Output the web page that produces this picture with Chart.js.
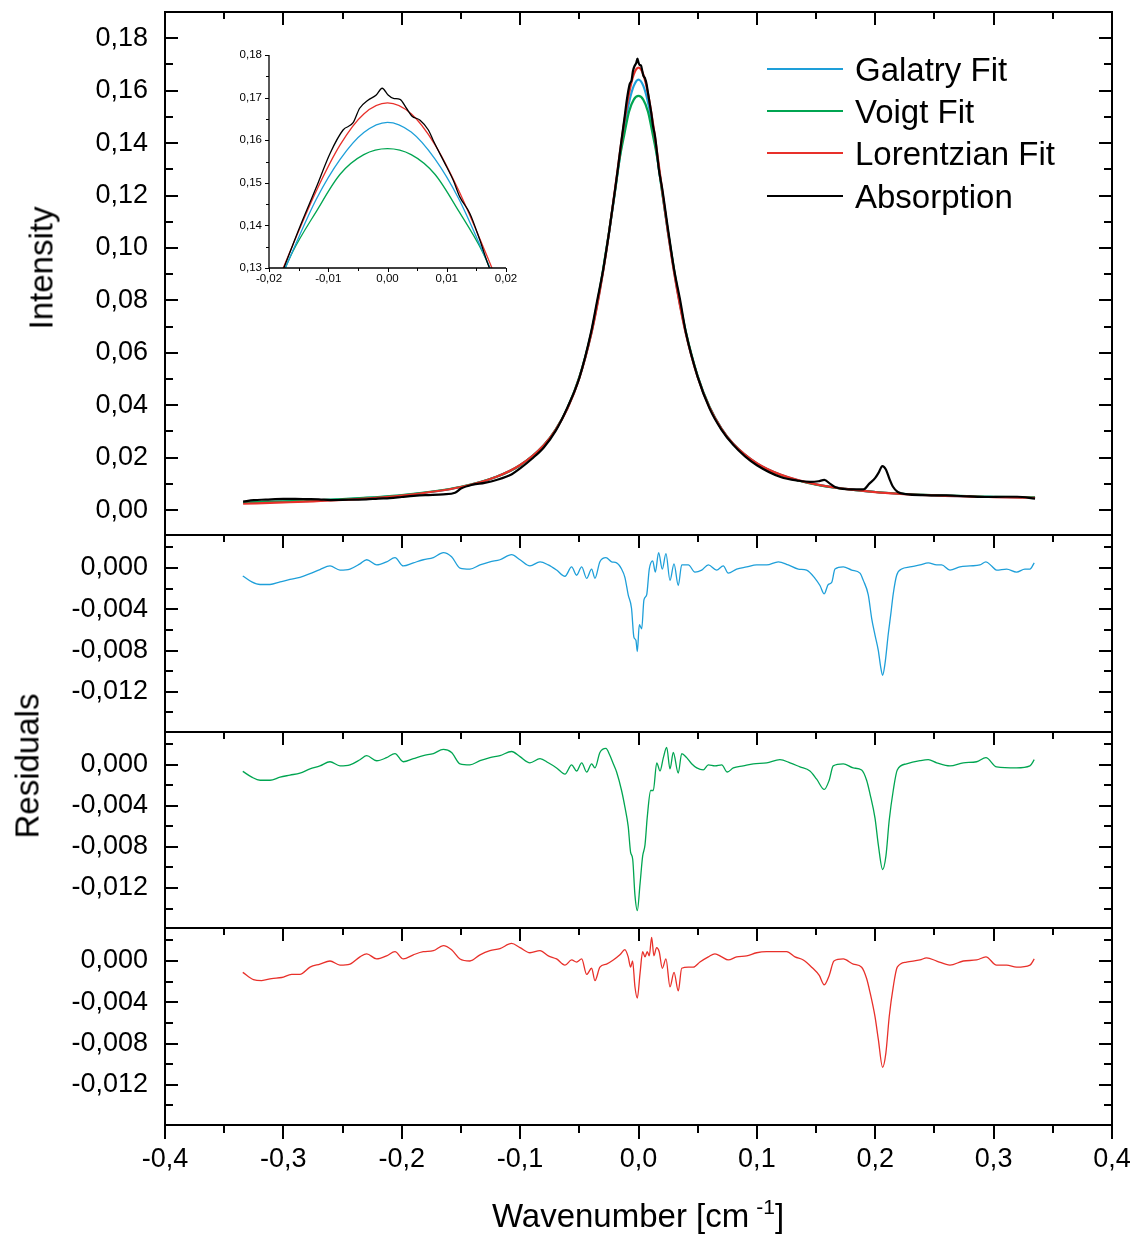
<!DOCTYPE html>
<html>
<head>
<meta charset="utf-8">
<script src="https://cdn.jsdelivr.net/npm/chart.js@4.4.1/dist/chart.umd.min.js"></script>
<style>
  html, body { margin: 0; padding: 0; background: #fff; }
  #wrap { position: relative; width: 1133px; height: 1236px; overflow: hidden; background: #fff; }
  canvas { position: absolute; left: 0; top: 0; }
  .txt { position: absolute; font-family: 'Liberation Sans', Arial, sans-serif; color: #000; white-space: nowrap; }
  .rot { transform: translate(-50%, -50%) rotate(-90deg); font-size: 33px; line-height: 33px; }
  .leg-line { position: absolute; left: 767px; width: 76px; height: 2px; }
  .leg-txt { position: absolute; left: 855px; font-family: 'Liberation Sans', Arial, sans-serif; font-size: 33px; line-height: 33px; color: #000; white-space: nowrap; }
</style>
</head>
<body>
<div id="wrap">
  <canvas id="cMain" width="1133" height="1236"></canvas>
  <canvas id="cR1" width="1133" height="1236"></canvas>
  <canvas id="cR2" width="1133" height="1236"></canvas>
  <canvas id="cR3" width="1133" height="1236"></canvas>
  <canvas id="cInset" width="1133" height="1236"></canvas>

  <div class="txt rot" style="left:41px; top:268px;">Intensity</div>
  <div class="txt rot" style="left:27px; top:766px;">Residuals</div>
  <div class="txt" style="left:638px; top:1199px; transform: translateX(-50%); font-size:33px; line-height:33px;">Wavenumber [cm<span style="font-size:21px; position:relative; top:-13px; margin-left:7px;">-1</span>]</div>

  <div class="leg-line" style="top:68px; background:#1E9FD9;"></div>
  <div class="leg-txt" style="top:53px;">Galatry Fit</div>
  <div class="leg-line" style="top:110px; background:#00A551;"></div>
  <div class="leg-txt" style="top:95px;">Voigt Fit</div>
  <div class="leg-line" style="top:152px; background:#E8302A;"></div>
  <div class="leg-txt" style="top:137px;">Lorentzian Fit</div>
  <div class="leg-line" style="top:195px; background:#000;"></div>
  <div class="leg-txt" style="top:180px;">Absorption</div>
</div>

<script>
// ---------------- DATA ----------------
const FIT_X = [-0.334,-0.30,-0.25,-0.20,-0.15,-0.12,-0.10,-0.08,-0.07,-0.06,-0.05,-0.04,-0.035,-0.03,-0.025,-0.02,-0.016,-0.012,-0.008,-0.004,0,0.004,0.008,0.012,0.016,0.02,0.025,0.03,0.035,0.04,0.05,0.06,0.07,0.08,0.10,0.12,0.15,0.20,0.25,0.30,0.335];
const GALATRY_FIT = [0.0028,0.0032,0.0041,0.0056,0.0088,0.0127,0.0171,0.0247,0.0306,0.0389,0.0505,0.0672,0.0782,0.0910,0.1053,0.1212,0.1340,0.1462,0.1555,0.1618,0.1642,0.1619,0.1556,0.1463,0.1341,0.1213,0.1055,0.0912,0.0785,0.0676,0.0509,0.0393,0.0312,0.0253,0.0178,0.0135,0.0098,0.0069,0.0056,0.0050,0.0048];
const VOIGT_FIT = [0.0029,0.0033,0.0042,0.0057,0.0089,0.0127,0.0171,0.0247,0.0307,0.0390,0.0507,0.0675,0.0786,0.0915,0.1058,0.1210,0.1338,0.1433,0.1520,0.1566,0.1580,0.1566,0.1520,0.1434,0.1339,0.1212,0.1060,0.0918,0.0790,0.0680,0.0511,0.0393,0.0311,0.0252,0.0177,0.0134,0.0097,0.0069,0.0057,0.0051,0.0049];
const LORENTZ_FIT = [0.00243,0.00291,0.00389,0.00553,0.00880,0.01271,0.01719,0.02477,0.03063,0.03876,0.05032,0.06696,0.07784,0.09067,0.10548,0.12186,0.13536,0.14815,0.15891,0.16617,0.16875,0.16619,0.15897,0.14824,0.13546,0.12200,0.10565,0.09087,0.07808,0.06724,0.05066,0.03916,0.03111,0.02531,0.01787,0.01353,0.00982,0.00689,0.00559,0.00495,0.00470];

const ABS_X = [-0.334,-0.325,-0.315,-0.30,-0.29,-0.28,-0.27,-0.26,-0.25,-0.24,-0.23,-0.22,-0.21,-0.20,-0.19,-0.18,-0.165,-0.155,-0.15,-0.14,-0.13,-0.12,-0.107,-0.10,-0.09,-0.08,-0.07,-0.06,-0.05,-0.04,-0.035,-0.03,-0.025,-0.02,-0.0175,-0.0148,-0.012,-0.0097,-0.0075,-0.0058,-0.0047,-0.0033,-0.0019,-0.0009,0.0001,0.001,0.0021,0.0032,0.0041,0.0055,0.0069,0.0077,0.01,0.0111,0.0122,0.0139,0.0156,0.0172,0.02,0.025,0.03,0.035,0.04,0.05,0.06,0.07,0.08,0.09,0.10,0.12,0.135,0.145,0.152,0.157,0.162,0.167,0.18,0.19,0.195,0.20,0.203,0.206,0.209,0.212,0.215,0.219,0.226,0.24,0.26,0.28,0.293,0.31,0.32,0.335];
const ABS_Y = [0.0032,0.0038,0.0040,0.0043,0.0043,0.0042,0.0041,0.0038,0.0039,0.0040,0.0041,0.0044,0.0046,0.0050,0.0054,0.0057,0.0060,0.0066,0.0082,0.0097,0.0104,0.0115,0.0137,0.0159,0.0196,0.0239,0.0302,0.0392,0.0504,0.0680,0.0797,0.0913,0.1056,0.1216,0.1300,0.1396,0.1490,0.1569,0.1624,0.1641,0.1675,0.1694,0.1706,0.1722,0.1706,0.1698,0.1696,0.1675,0.1657,0.1647,0.1624,0.1600,0.1537,0.1506,0.1467,0.1428,0.1365,0.1300,0.1227,0.1070,0.0920,0.0805,0.0678,0.0508,0.0388,0.0307,0.0249,0.0205,0.0171,0.0126,0.0112,0.0108,0.0110,0.0115,0.0100,0.0086,0.0079,0.0079,0.0101,0.0123,0.0144,0.0168,0.0155,0.0119,0.0089,0.0069,0.0061,0.0057,0.0056,0.0052,0.0050,0.0051,0.0051,0.0044];

const RES_G_X = [-0.3343,-0.3267,-0.3197,-0.3113,-0.3028,-0.2944,-0.286,-0.2775,-0.2691,-0.2606,-0.2522,-0.2437,-0.2353,-0.2296,-0.2212,-0.2128,-0.2057,-0.1987,-0.1902,-0.1818,-0.1733,-0.1649,-0.1579,-0.1508,-0.1424,-0.1339,-0.1255,-0.117,-0.1072,-0.1001,-0.0917,-0.0832,-0.0762,-0.0692,-0.0621,-0.0565,-0.0523,-0.048,-0.0438,-0.0396,-0.0368,-0.0326,-0.0275,-0.0227,-0.0185,-0.0143,-0.0115,-0.0087,-0.0059,-0.0039,-0.0022,-0.001,0.0007,0.0027,0.0046,0.0069,0.0091,0.012,0.0142,0.017,0.0201,0.0232,0.0266,0.03,0.0336,0.0365,0.0421,0.0477,0.0534,0.059,0.066,0.0716,0.0758,0.0829,0.0914,0.0998,0.1083,0.1181,0.1265,0.135,0.142,0.1491,0.1533,0.1569,0.1603,0.1632,0.166,0.173,0.1801,0.1871,0.1899,0.1941,0.197,0.1998,0.2026,0.2046,0.2062,0.2082,0.211,0.213,0.2152,0.2181,0.2223,0.2293,0.2378,0.2448,0.2519,0.2561,0.2631,0.2715,0.28,0.2884,0.2935,0.2983,0.3025,0.311,0.3194,0.3264,0.3307,0.3343];
const RES_G = [-0.00077,-0.00135,-0.0016,-0.0016,-0.00135,-0.0011,-0.0009,-0.00055,-0.00015,0.0002,-0.0002,-0.0001,0.0004,0.0008,0.0003,0.0006,0.001,0.0002,0.0005,0.0008,0.001,0.0015,0.0011,0,-0.0001,0.0003,0.0006,0.0008,0.0013,0.0008,0.0002,0.0006,0.0003,-0.0002,-0.0008,0.0001,-0.0007,0.0001,-0.001,-0.0001,-0.001,0.0006,0.001,0.0006,0.0005,-0.0001,-0.0009,-0.0026,-0.0039,-0.0067,-0.007,-0.0081,-0.0055,-0.0059,-0.0031,-0.0026,-0.0001,0.0007,-0.0004,0.0015,-0.0001,0.0014,-0.0012,0.0004,-0.0017,0.0003,0.0003,-0.0004,-0.0002,0.0003,-0.0002,0.0002,-0.0005,-0.0001,0.0001,0.0003,0.0003,0.0006,0.0003,-0.0001,-0.0002,-0.001,-0.0017,-0.0025,-0.0016,-0.0014,-0.0001,0.0001,-0.0002,-0.0005,-0.0012,-0.0026,-0.0049,-0.0065,-0.008,-0.0096,-0.0104,-0.0093,-0.0064,-0.0046,-0.0025,-0.0007,-0.0001,0.0001,0.0003,0.0005,0.0003,0.0003,-0.0002,0.0001,0.0002,0.0003,0.0006,0.0002,-0.0002,-0.0001,-0.0004,-0.0001,-0.0001,0.0005];

const RES_V_X = [-0.3343,-0.3267,-0.3197,-0.3113,-0.3028,-0.2944,-0.286,-0.2775,-0.2691,-0.2606,-0.2522,-0.2437,-0.2353,-0.2296,-0.2212,-0.2128,-0.2057,-0.1987,-0.1902,-0.1818,-0.1733,-0.1649,-0.1579,-0.1508,-0.1424,-0.1339,-0.1255,-0.117,-0.1072,-0.1001,-0.0917,-0.0832,-0.0762,-0.0692,-0.0621,-0.0565,-0.0523,-0.048,-0.0438,-0.0396,-0.0368,-0.0326,-0.0275,-0.0245,-0.0213,-0.0185,-0.0143,-0.0115,-0.0087,-0.0067,-0.0049,-0.003,-0.001,0.0013,0.0035,0.0055,0.0074,0.0103,0.0125,0.0154,0.0182,0.021,0.0238,0.0266,0.0294,0.0336,0.0365,0.0407,0.0449,0.0492,0.0547,0.059,0.0646,0.0703,0.075,0.0801,0.0885,0.097,0.1083,0.1195,0.128,0.1364,0.1448,0.1505,0.1569,0.1611,0.1645,0.173,0.1814,0.1885,0.1927,0.1955,0.1998,0.2026,0.2062,0.209,0.2118,0.2152,0.2186,0.2264,0.2378,0.2448,0.2519,0.2631,0.2744,0.2856,0.2935,0.3025,0.3194,0.3307,0.3343];
const RES_V = [-0.00064,-0.0012,-0.0015,-0.0015,-0.0012,-0.001,-0.0008,-0.0004,-0.0001,0.0003,-0.0001,0,0.0005,0.0009,0.0004,0.0007,0.0011,0.0003,0.0006,0.0009,0.0011,0.0015,0.0012,0.0001,0,0.0004,0.0007,0.0009,0.0013,0.0008,0.0002,0.0006,0.0002,-0.0003,-0.0009,0,-0.0006,0.0002,-0.0007,0.0001,-0.0003,0.0012,0.0016,0.001,0.0001,-0.0007,-0.0025,-0.0041,-0.006,-0.0085,-0.0092,-0.0127,-0.0142,-0.0116,-0.0089,-0.0078,-0.0051,-0.0025,-0.0025,0.0002,-0.0006,0.0007,0.0017,-0.0004,0.0012,-0.0008,0.0011,0.0007,0.0001,-0.0003,-0.0005,0,-0.0001,0,-0.0007,-0.0003,-0.0001,0.0001,0.0002,0.0005,0.0002,-0.0002,-0.0006,-0.0014,-0.0024,-0.0015,-0.0001,0.0001,-0.0003,-0.0005,-0.0015,-0.0028,-0.0052,-0.0078,-0.0102,-0.0089,-0.0054,-0.0025,-0.0005,0.0001,0.0004,0.0005,0.0002,-0.0001,0.0002,0.0003,0.0007,-0.0002,-0.0003,-0.0001,0.0005];

const RES_L_X = [-0.3343,-0.3253,-0.3183,-0.3099,-0.3014,-0.293,-0.286,-0.2775,-0.2691,-0.2606,-0.2522,-0.2437,-0.2353,-0.2296,-0.2212,-0.2128,-0.2057,-0.1987,-0.1902,-0.1818,-0.1733,-0.1649,-0.1579,-0.1508,-0.1424,-0.1339,-0.1255,-0.117,-0.1072,-0.1001,-0.0917,-0.0832,-0.0762,-0.0692,-0.0621,-0.0565,-0.0523,-0.048,-0.0438,-0.0396,-0.0368,-0.0326,-0.027,-0.0213,-0.0157,-0.0115,-0.0087,-0.0067,-0.005,-0.003,-0.001,0.0013,0.0035,0.0055,0.0074,0.0091,0.0111,0.013,0.0153,0.0175,0.0201,0.0232,0.0266,0.03,0.0336,0.0365,0.0421,0.0463,0.0519,0.059,0.0646,0.0703,0.0758,0.0829,0.0914,0.0998,0.1083,0.1167,0.1252,0.1322,0.1392,0.1463,0.1527,0.1569,0.1611,0.1651,0.173,0.1814,0.1885,0.1927,0.1955,0.1998,0.2026,0.2062,0.209,0.2118,0.2152,0.2186,0.2264,0.2378,0.2434,0.2519,0.2631,0.2744,0.2856,0.2935,0.3025,0.311,0.3194,0.3307,0.3343];
const RES_L = [-0.0011,-0.0018,-0.0019,-0.0017,-0.0016,-0.0013,-0.0013,-0.0006,-0.0003,0,-0.0004,-0.0003,0.0004,0.0007,0.0002,0.0005,0.0009,0.0002,0.0006,0.0009,0.001,0.0015,0.0011,0.0002,0,0.0006,0.001,0.0012,0.0017,0.0013,0.0008,0.001,0.0005,0.0002,-0.0004,0.0001,-0.0001,0.0002,-0.0013,-0.0007,-0.0019,-0.0006,-0.0003,0.0001,0.0006,0.0011,0.0004,-0.0006,0,-0.0025,-0.0036,-0.0012,0.0009,0.0004,0.0009,0.0005,0.0023,0.0005,0.0013,0.0009,-0.0007,0.0002,-0.0025,-0.0011,-0.0029,-0.0007,-0.0006,-0.0006,-0.0001,0.0004,0.0007,0.0004,0.0001,0.0004,0.0005,0.0008,0.0009,0.0009,0.0009,0.0004,0.0001,-0.0006,-0.0014,-0.0023,-0.0014,0,0.0002,-0.0003,-0.0006,-0.0017,-0.003,-0.0054,-0.0076,-0.0103,-0.0089,-0.0054,-0.0025,-0.0006,-0.0001,0.0001,0.0003,0,-0.0004,0,0.0001,0.0004,-0.0004,-0.0004,-0.0006,-0.0004,0.0002];

// ticks / labels
const X_TICKS = [-0.4,-0.3,-0.2,-0.1,0,0.1,0.2,0.3,0.4];
const X_MINOR = [-0.35,-0.25,-0.15,-0.05,0.05,0.15,0.25,0.35];
const MAIN_Y_TICKS = [0,0.02,0.04,0.06,0.08,0.10,0.12,0.14,0.16,0.18];
const MAIN_Y_MINOR = [0.01,0.03,0.05,0.07,0.09,0.11,0.13,0.15,0.17];
const RES_Y_TICKS = [0,-0.004,-0.008,-0.012];
const RES_Y_MINOR = [0.002,-0.002,-0.006,-0.010,-0.014];
const INSET_X_TICKS = [-0.02,-0.01,0,0.01,0.02];
const INSET_X_MINOR = [-0.015,-0.005,0.005,0.015];
const INSET_Y_TICKS = [0.13,0.14,0.15,0.16,0.17,0.18];
const INSET_Y_MINOR = [0.135,0.145,0.155,0.165,0.175];

// ---------------- STYLE ----------------
const FONT = "'Liberation Sans', Arial, sans-serif";
const C_BLUE = '#1E9FD9', C_GREEN = '#00A551', C_RED = '#E8302A', C_BLACK = '#000000';
const W = 1133, H = 1236;

const pts = (xs, ys) => xs.map((x, i) => ({ x: x, y: ys[i] }));
const comma = (d) => (v) => Number(v).toFixed(d).replace('.', ',');
const noPad = (s) => { s.paddingTop = 0; s.paddingBottom = 0; s.paddingLeft = 0; s.paddingRight = 0; };

// plugin: frame + tick marks drawn through the chart's own scales
const frameTicks = {
  id: 'frameTicks',
  afterDraw(chart, args, opts) {
    const { ctx, chartArea: a } = chart;
    const xs = chart.scales.x, ys = chart.scales.y;
    ctx.save();
    ctx.strokeStyle = '#000';
    ctx.lineCap = 'butt';
    const seg = (x1, y1, x2, y2, w) => { ctx.lineWidth = w; ctx.beginPath(); ctx.moveTo(x1, y1); ctx.lineTo(x2, y2); ctx.stroke(); };
    (opts.ticks || []).forEach(t => {
      t.values.forEach(v => {
        if (t.side === 'top' || t.side === 'bottom') {
          const px = Math.round(xs.getPixelForValue(v)) + (t.w % 2 ? 0.5 : 0);
          const y0 = t.side === 'top' ? a.top : a.bottom;
          seg(px, y0, px, y0 + t.len, t.w);
        } else {
          const py = Math.round(ys.getPixelForValue(v)) + (t.w % 2 ? 0.5 : 0);
          const x0 = t.side === 'left' ? a.left : a.right;
          seg(x0, py, x0 + t.len, py, t.w);
        }
      });
    });
    ctx.lineWidth = opts.frameWidth || 2;
    ctx.beginPath();
    if (opts.fullFrame) {
      ctx.rect(a.left, a.top, a.right - a.left, a.bottom - a.top);
    } else {
      ctx.moveTo(a.left, a.top); ctx.lineTo(a.left, a.bottom); ctx.lineTo(a.right, a.bottom);
    }
    ctx.stroke();
    ctx.restore();
  }
};

function lineDs(xs, ys, color, width) {
  return {
    data: pts(xs, ys), showLine: true, borderColor: color, backgroundColor: color,
    borderWidth: width, pointRadius: 0, pointHoverRadius: 0, fill: false,
    cubicInterpolationMode: 'monotone', borderJoinStyle: 'round'
  };
}

function makeChart(id, cfg) {
  const tickFont = { family: FONT, size: cfg.fontSize };
  return new Chart(document.getElementById(id), {
    type: 'scatter',
    data: { datasets: cfg.datasets },
    plugins: [frameTicks],
    options: {
      responsive: false, animation: false, events: [], devicePixelRatio: 1,
      layout: { autoPadding: false, padding: cfg.padding },
      plugins: { legend: { display: false }, tooltip: { enabled: false }, frameTicks: cfg.frame },
      scales: {
        x: {
          type: 'linear', min: cfg.xMin, max: cfg.xMax, display: cfg.showX,
          afterBuildTicks: s => { s.ticks = cfg.xTicks.map(v => ({ value: v })); },
          afterFit: s => { s.height = cfg.xHeight || 0; noPad(s); },
          grid: { display: false, drawTicks: false }, border: { display: false },
          ticks: { padding: cfg.xPad || 0, color: '#000', font: tickFont, maxRotation: 0, autoSkip: false, callback: cfg.xFmt }
        },
        y: {
          type: 'linear', min: cfg.yMin, max: cfg.yMax,
          afterBuildTicks: s => { s.ticks = cfg.yTicks.map(v => ({ value: v })); },
          afterFit: s => { s.width = cfg.yWidth; noPad(s); },
          grid: { display: false, drawTicks: false }, border: { display: false },
          ticks: { padding: cfg.yPad, color: '#000', font: tickFont, autoSkip: false, callback: cfg.yFmt }
        }
      }
    }
  });
}

const mainTicks = [
  { side: 'top', values: X_TICKS, len: 13, w: 2 },
  { side: 'top', values: X_MINOR, len: 7, w: 2 },
  { side: 'left', values: MAIN_Y_TICKS, len: 13, w: 2 },
  { side: 'left', values: MAIN_Y_MINOR, len: 8, w: 2 },
  { side: 'right', values: MAIN_Y_TICKS, len: -13, w: 2 },
  { side: 'right', values: MAIN_Y_MINOR, len: -8, w: 2 }
];
const resTicks = [
  { side: 'top', values: X_TICKS, len: 13, w: 2 },
  { side: 'top', values: X_MINOR, len: 7, w: 2 },
  { side: 'left', values: RES_Y_TICKS, len: 13, w: 2 },
  { side: 'left', values: RES_Y_MINOR, len: 8, w: 2 },
  { side: 'right', values: RES_Y_TICKS, len: -13, w: 2 },
  { side: 'right', values: RES_Y_MINOR, len: -8, w: 2 }
];

// main panel: dataset 0 is drawn on top
makeChart('cMain', {
  datasets: [
    lineDs(ABS_X, ABS_Y, C_BLACK, 2.2),
    lineDs(FIT_X, LORENTZ_FIT, C_RED, 2.2),
    lineDs(FIT_X, VOIGT_FIT, C_GREEN, 2.2),
    lineDs(FIT_X, GALATRY_FIT, C_BLUE, 2.2)
  ],
  padding: { top: 12, bottom: H - 535, left: 0, right: W - 1112 },
  xMin: -0.4, xMax: 0.4, showX: false, xTicks: X_TICKS, xFmt: comma(1),
  yMin: -0.0095, yMax: 0.19, yTicks: MAIN_Y_TICKS, yFmt: comma(2), yWidth: 165, yPad: 17, fontSize: 27,
  frame: { ticks: mainTicks, fullFrame: true, frameWidth: 2 }
});

const resPanels = [
  { id: 'cR1', xs: RES_G_X, ys: RES_G, color: C_BLUE, top: 535, bottom: 732 },
  { id: 'cR2', xs: RES_V_X, ys: RES_V, color: C_GREEN, top: 732, bottom: 928 },
  { id: 'cR3', xs: RES_L_X, ys: RES_L, color: C_RED, top: 928, bottom: 1125 }
];
resPanels.forEach((p, i) => {
  const last = i === resPanels.length - 1;
  const ticks = resTicks.slice();
  if (last) {
    ticks.push({ side: 'bottom', values: X_TICKS, len: 14, w: 2 });
    ticks.push({ side: 'bottom', values: X_MINOR, len: 8, w: 2 });
  }
  makeChart(p.id, {
    datasets: [lineDs(p.xs, p.ys, p.color, 1.3)],
    padding: { top: p.top, bottom: last ? 0 : H - p.bottom, left: 0, right: W - 1112 },
    xMin: -0.4, xMax: 0.4, showX: last, xTicks: X_TICKS, xFmt: comma(1), xHeight: last ? H - p.bottom : 0, xPad: 18,
    yMin: -0.0159, yMax: 0.0032, yTicks: RES_Y_TICKS, yFmt: comma(3), yWidth: 165, yPad: 17, fontSize: 27,
    frame: { ticks: ticks, fullFrame: true, frameWidth: 2 }
  });
});

// inset
makeChart('cInset', {
  datasets: [
    lineDs(ABS_X, ABS_Y, C_BLACK, 1.3),
    lineDs(FIT_X, LORENTZ_FIT, C_RED, 1.3),
    lineDs(FIT_X, GALATRY_FIT, C_BLUE, 1.3),
    lineDs(FIT_X, VOIGT_FIT, C_GREEN, 1.3)
  ],
  padding: { top: 55, bottom: H - 268 - 20, left: 0, right: W - 506 },
  xMin: -0.02, xMax: 0.02, showX: true, xTicks: INSET_X_TICKS, xFmt: comma(2), xHeight: 20, xPad: 4,
  yMin: 0.13, yMax: 0.18, yTicks: INSET_Y_TICKS, yFmt: comma(2), yWidth: 269, yPad: 7, fontSize: 11.5,
  frame: {
    ticks: [
      { side: 'left', values: INSET_Y_TICKS, len: -4, w: 1 },
      { side: 'left', values: INSET_Y_MINOR, len: -3, w: 1 },
      { side: 'bottom', values: INSET_X_TICKS, len: 4, w: 1 },
      { side: 'bottom', values: INSET_X_MINOR, len: 3, w: 1 }
    ],
    fullFrame: false, frameWidth: 1.3
  }
});
</script>
</body>
</html>
